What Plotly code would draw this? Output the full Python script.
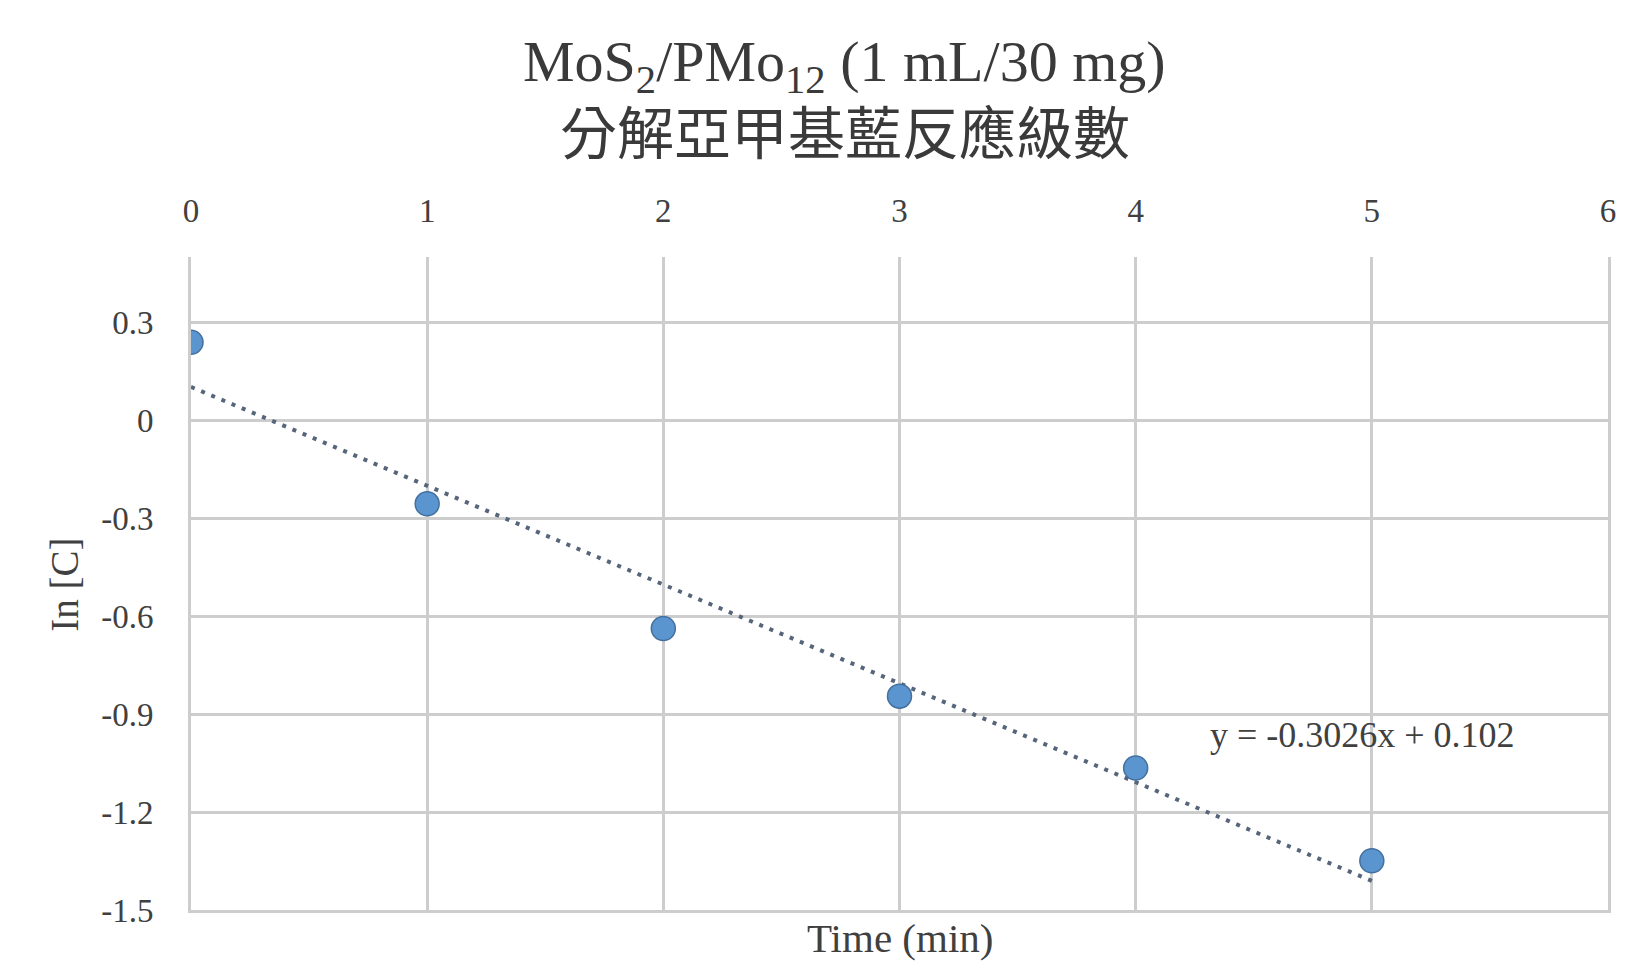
import plotly.graph_objects as go

# Reaction-order data: time (min) vs ln[C]
time_min = [0, 1, 2, 3, 4, 5]
ln_c = [0.239, -0.256, -0.638, -0.845, -1.065, -1.349]

# Linear fit reported on the chart
slope = -0.3026
intercept = 0.102
fit_x = [0, 5]
fit_y = [intercept + slope * x for x in fit_x]

y_ticks = [-1.5, -1.2, -0.9, -0.6, -0.3, 0, 0.3]
y_tick_text = ["-1.5", "-1.2", "-0.9", "-0.6", "-0.3", "0", "0.3"]
x_ticks = [0, 1, 2, 3, 4, 5, 6]

title_line1 = "MoS<sub>2</sub>/PMo<sub>12</sub> (1 mL/30 mg)"
title_line2 = "分解亞甲基藍反應級數"
x_title = "Time (min)"
y_title = "In [C]"
equation = "y = -0.3026x + 0.102"

serif = "Liberation Serif, Times New Roman, serif"
cjk = "Noto Sans CJK TC, Noto Sans CJK SC, sans-serif"
grid = "#cdcdcd"
text_col = "#404040"

fig = go.Figure()

fig.add_trace(go.Scatter(
    x=fit_x, y=fit_y, mode="lines",
    line=dict(color="#56657a", width=4, dash="4px,7px"),
    hoverinfo="skip", showlegend=False,
))

fig.add_trace(go.Scatter(
    x=time_min, y=ln_c, mode="markers",
    marker=dict(size=24, color="#5b95cf", line=dict(color="#44709f", width=1.5)),
    showlegend=False,
))

# Invisible companion axis that only supplies the bottom border line
fig.add_trace(go.Scatter(x=[None], y=[None], xaxis="x2", showlegend=False, hoverinfo="skip"))

fig.update_layout(
    width=1647, height=962,
    margin=dict(l=191, r=39, t=257, b=52),
    paper_bgcolor="white", plot_bgcolor="white",
    font=dict(family=serif, color=text_col, size=32),
    xaxis=dict(
        side="top", range=[0, 6], tickvals=x_ticks,
        showgrid=True, gridcolor=grid, gridwidth=3,
        zeroline=False, showline=False, ticks="",
        ticklabelstandoff=27,
        tickfont=dict(family=serif, size=33, color=text_col),
    ),
    xaxis2=dict(
        overlaying="x", side="bottom", range=[0, 6],
        showgrid=False, zeroline=False, showticklabels=False, ticks="",
        showline=True, linecolor=grid, linewidth=3,
    ),
    yaxis=dict(
        range=[-1.5, 0.5], tickvals=y_ticks, ticktext=y_tick_text,
        showgrid=True, gridcolor=grid, gridwidth=3,
        zeroline=False, showline=True, linecolor=grid, linewidth=3, mirror=True,
        ticks="", ticklabelstandoff=28,
        tickfont=dict(family=serif, size=33, color=text_col),
    ),
    annotations=[
        dict(text=title_line1, xref="paper", yref="paper", x=0.4615, y=1.294,
             xanchor="center", yanchor="middle", showarrow=False,
             font=dict(family=serif, size=58, color="#3a3a3a")),
        dict(text=title_line2, xref="paper", yref="paper", x=0.4615, y=1.196,
             xanchor="center", yanchor="middle", showarrow=False,
             font=dict(family=cjk, size=57, color="#3a3a3a")),
        dict(text=x_title, xref="paper", yref="paper", x=0.5, y=-0.043,
             xanchor="center", yanchor="middle", showarrow=False,
             font=dict(family=serif, size=41, color=text_col)),
        dict(text=y_title, xref="paper", yref="paper", x=-0.089, y=0.498,
             xanchor="center", yanchor="middle", showarrow=False, textangle=-90,
             font=dict(family=serif, size=39, color=text_col)),
        dict(text=equation, xref="x", yref="y", x=4.96, y=-0.964,
             xanchor="center", yanchor="middle", showarrow=False,
             font=dict(family=serif, size=36, color=text_col)),
    ],
)

fig.write_html("out.html")
